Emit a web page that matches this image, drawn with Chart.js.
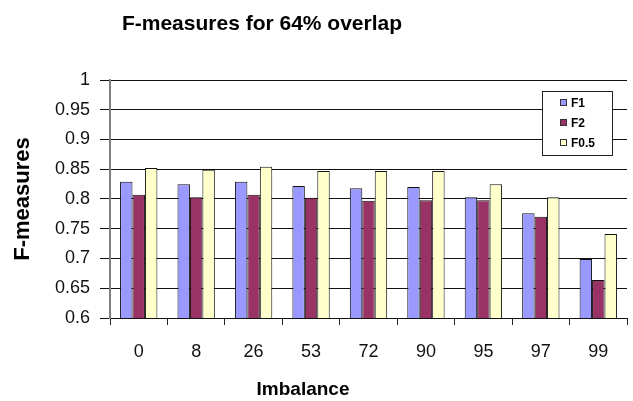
<!DOCTYPE html>
<html>
<head>
<meta charset="utf-8">
<style>
  html, body { margin: 0; padding: 0; background: #fff; }
  #wrap { position: relative; width: 633px; height: 401px; }
</style>
<script src="https://cdn.jsdelivr.net/npm/chart.js@4.4.1/dist/chart.umd.min.js"></script>
</head>
<body>
<div id="wrap"><canvas id="c" width="633" height="401"></canvas></div>
<script>
// Imbalance levels (x categories)
const categories = ['0', '8', '26', '53', '72', '90', '95', '97', '99'];

// F-measure series
const f1Values   = [0.829, 0.825, 0.829, 0.822, 0.818, 0.820, 0.803, 0.776, 0.699];
const f2Values   = [0.807, 0.803, 0.807, 0.802, 0.797, 0.798, 0.798, 0.770, 0.664];
const f05Values  = [0.852, 0.849, 0.854, 0.847, 0.847, 0.847, 0.825, 0.803, 0.741];

const seriesNames = ['F1', 'F2', 'F0.5'];

// Value axis
const yMin = 0.6, yMax = 1, yStep = 0.05;

const chartTitle = 'F-measures for 64% overlap';
const xTitle = 'Imbalance';
const yTitle = 'F-measures';

const FONT = "'Liberation Sans', Arial, sans-serif";

// Title and x caption, placed relative to the plot area
const captions = {
  id: 'captions',
  afterDraw(chart) {
    const { ctx, chartArea } = chart;
    ctx.save();
    ctx.fillStyle = '#000';
    ctx.textAlign = 'center';
    ctx.textBaseline = 'middle';
    ctx.font = 'bold 21px ' + FONT;
    ctx.fillText(chartTitle, chartArea.left + 152, 24);
    ctx.font = 'bold 19px ' + FONT;
    ctx.fillText(xTitle, chartArea.left + 193, chartArea.bottom + 72);
    ctx.restore();
  }
};

// Boxed legend inside the plot, top right
const boxLegend = {
  id: 'boxLegend',
  afterDraw(chart) {
    const { ctx, chartArea } = chart;
    const w = 70, h = 64;
    const x = chartArea.right - 85, y = chartArea.top + 11;
    ctx.save();
    ctx.fillStyle = '#fff';
    ctx.fillRect(x, y, w, h);
    ctx.strokeStyle = '#222';
    ctx.lineWidth = 1;
    ctx.strokeRect(x + 0.5, y + 0.5, w, h);
    ctx.font = 'bold 12px ' + FONT;
    ctx.textBaseline = 'middle';
    ctx.textAlign = 'left';
    chart.data.datasets.forEach((ds, i) => {
      const cy = y + 12 + i * 20;
      ctx.fillStyle = ds.backgroundColor;
      ctx.fillRect(x + 18, cy - 3, 6, 6);
      ctx.strokeStyle = '#333';
      ctx.strokeRect(x + 18.5, cy - 3.5, 6, 6);
      ctx.fillStyle = '#000';
      ctx.fillText(ds.label, x + 29, cy + 1);
    });
    ctx.restore();
  }
};

const colors = ['#9999ff', '#993366', '#ffffcc'];
const seriesValues = [f1Values, f2Values, f05Values];

new Chart(document.getElementById('c'), {
  type: 'bar',
  data: {
    labels: categories,
    datasets: seriesValues.map((vals, i) => ({
      label: seriesNames[i],
      data: vals,
      backgroundColor: colors[i],
      borderColor: '#111',
      borderWidth: 1,
      categoryPercentage: 0.65,
      barPercentage: 1.0
    }))
  },
  options: {
    responsive: false,
    animation: false,
    devicePixelRatio: 1,
    layout: { padding: { top: 80, right: 6, bottom: 0, left: 0 } },
    plugins: {
      legend: { display: false },
      title: { display: false },
      tooltip: { enabled: false }
    },
    scales: {
      x: {
        offset: true,
        grid: {
          offset: true,
          drawOnChartArea: false,
          drawTicks: true,
          tickLength: 7,
          color: '#222'
        },
        border: { color: '#111', width: 1 },
        ticks: {
          color: '#111',
          font: { family: FONT, size: 18 },
          padding: 16,
          maxRotation: 0
        },
        afterFit(scale) { scale.height = 83; }
      },
      y: {
        min: yMin,
        max: yMax,
        ticks: {
          stepSize: yStep,
          color: '#111',
          font: { family: FONT, size: 18 },
          padding: 10,
          callback: (v) => String(Number(v.toFixed(2)))
        },
        grid: {
          color: '#111',
          lineWidth: 1,
          drawTicks: true,
          tickLength: 10
        },
        border: { color: '#808080', width: 2 },
        title: {
          display: true,
          text: yTitle,
          color: '#000',
          font: { family: FONT, size: 22, weight: 'bold' },
          padding: { top: 10, bottom: 0 }
        },
        afterFit(scale) { scale.width = 110; }
      }
    }
  },
  plugins: [captions, boxLegend]
});
</script>
</body>
</html>
